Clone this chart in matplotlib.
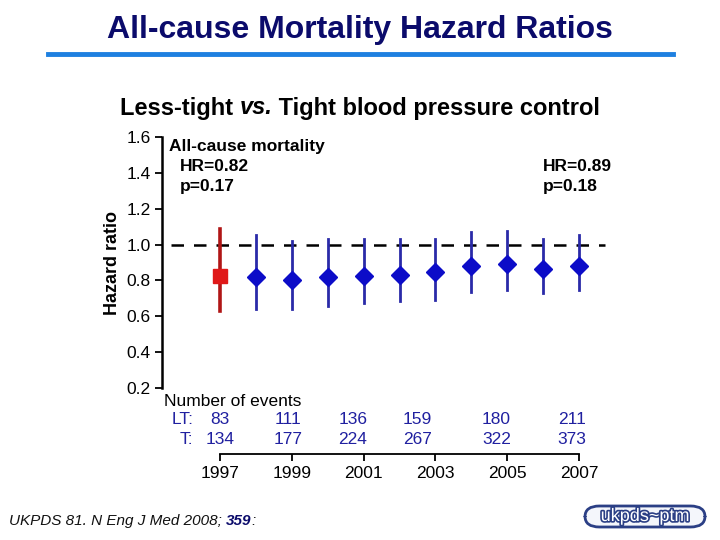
import matplotlib
matplotlib.use("Agg")
import matplotlib.pyplot as plt
import matplotlib.patheffects as pe
from matplotlib.patches import FancyBboxPatch

plt.rcParams['font.family'] = ['Liberation Sans', 'DejaVu Sans']

# ---- data ----
years = [1997, 1998, 1999, 2000, 2001, 2002, 2003, 2004, 2005, 2006, 2007]
hr    = [0.827, 0.818, 0.803, 0.820, 0.827, 0.833, 0.846, 0.879, 0.894, 0.864, 0.883]
ci_lo = [0.632, 0.638, 0.638, 0.656, 0.675, 0.684, 0.693, 0.734, 0.749, 0.730, 0.749]
ci_hi = [1.087, 1.056, 1.019, 1.033, 1.033, 1.033, 1.033, 1.069, 1.078, 1.033, 1.056]
event_years = [1997, 1999, 2001, 2003, 2005, 2007]
events_lt = [83, 111, 136, 159, 180, 211]
events_t = [134, 177, 224, 267, 322, 373]
year_ticks = [1997, 1999, 2001, 2003, 2005, 2007]
y_ticks = [0.2, 0.4, 0.6, 0.8, 1.0, 1.2, 1.4, 1.6]

# layout offsets for event labels (years)
ev_offsets = [0.0, -0.1, -0.3, -0.5, -0.3, -0.2]

fig = plt.figure(figsize=(7.2, 5.4), dpi=100)
fig.patch.set_facecolor('white')
renderer = fig.canvas.get_renderer()

def chain(parts, x_px, y_px, **kw):
    """Place text segments one after another starting at pixel x."""
    x = x_px
    for txt, extra in parts:
        t = fig.text(x / 720, 1 - y_px / 540, txt, ha='left', va='center', **kw, **extra)
        bb = t.get_window_extent(renderer=renderer)
        x = bb.x1
    return x

# title + rule
fig.text(0.5, 1 - 30/540, 'All-cause Mortality Hazard Ratios', ha='center', va='center',
         fontsize=23, fontweight='bold', color='#0b0b6b')
fig.add_artist(plt.Line2D([48/720, 673/720], [1 - 53.5/540]*2, color='#1e80e0', lw=3.5))

# subtitle (measure total width to center)
sub_parts = [('Less-tight ', {}), ('vs.', {'style': 'italic'}), (' Tight blood pressure control', {})]
tmp_w = 0
for txt, extra in sub_parts:
    t = fig.text(0, 0, txt, fontsize=17, fontweight='bold', **extra)
    tmp_w += t.get_window_extent(renderer=renderer).width
    t.remove()
chain(sub_parts, 360 - tmp_w / 2, 108, fontsize=17, fontweight='bold', color='black')

ax = fig.add_axes([162/720, 1 - 388/540, (651-162)/720, (388-137)/540])
x0 = 1997 - (220 - 162) / 35.9
x1 = x0 + (651 - 162) / 35.9
ax.set_xlim(x0, x1)
ax.set_ylim(0.2, 1.6)

for s in ['top', 'right']:
    ax.spines[s].set_visible(False)
ax.spines['left'].set_linewidth(1.8)
ax.spines['bottom'].set_position(('outward', 47.5))
ax.spines['bottom'].set_bounds(1997, 2007)
ax.spines['bottom'].set_linewidth(1.3)

ax.set_yticks(y_ticks)
ax.set_yticklabels([f'{v:.1f}' for v in y_ticks], fontsize=12.5)
ax.set_xticks(year_ticks)
ax.set_xticklabels([str(y) for y in year_ticks], fontsize=12.5)
ax.tick_params(axis='y', length=5, width=1.3, pad=3)
ax.tick_params(axis='x', length=5, width=1.3, pad=4)
ax.set_ylabel('Hazard ratio', fontsize=13, fontweight='bold', labelpad=4)

# reference line
ax.plot([x0 + 0.25, 2007.72], [1.0, 1.0], color='black', lw=1.8, dashes=(5, 4), zorder=1)

# red first point
ax.plot([years[0], years[0]], [ci_lo[0], ci_hi[0]], color='#b01515', lw=2.6, zorder=2)
ax.plot(years[0], hr[0], marker='s', ms=9.5, color='#e01818', mec='#e01818', zorder=3)

# blue points
for x, lo, hi in zip(years[1:], ci_lo[1:], ci_hi[1:]):
    ax.plot([x, x], [lo, hi], color='#2a2aa8', lw=2.0, zorder=2)
ax.plot(years[1:], hr[1:], ls='none', marker='D', ms=9, color='#0c0cc8', mec='#0c0cc8', zorder=3)

# annotations
ax.text(x0 + 0.2, 1.546, 'All-cause mortality', fontsize=12.5, fontweight='bold', va='center')
ax.text(x0 + 0.5, 1.437, 'HR=0.82', fontsize=12.5, fontweight='bold', va='center')
ax.text(x0 + 0.5, 1.325, 'p=0.17', fontsize=12.5, fontweight='bold', va='center')
ax.text(2006.0, 1.437, 'HR=0.89', fontsize=12.5, fontweight='bold', va='center')
ax.text(2006.0, 1.325, 'p=0.18', fontsize=12.5, fontweight='bold', va='center')

# number of events
yev = lambda py: 0.2 - (py - 388) / (251 / 1.4)
ax.text(x0 + 0.05, yev(402), 'Number of events', fontsize=12.5, va='center', clip_on=False)
ax.text(x0 + 0.88, yev(420), 'LT:', fontsize=12.5, va='center', ha='right', color='#2020a0', clip_on=False)
ax.text(x0 + 0.88, yev(439), 'T:', fontsize=12.5, va='center', ha='right', color='#2020a0', clip_on=False)
for yr, off, lt, t in zip(event_years, ev_offsets, events_lt, events_t):
    ax.text(yr + off, yev(420), str(lt), fontsize=12.5, va='center', ha='center', color='#2020a0', clip_on=False)
    ax.text(yr + off, yev(439), str(t), fontsize=12.5, va='center', ha='center', color='#2020a0', clip_on=False)

# footer
chain([('UKPDS 81. N Eng J Med 2008; ', {'color': '#111111'}),
       ('359', {'fontweight': 'bold', 'color': '#0b0b6b'}),
       (':', {'color': '#111111'})],
      9, 521, fontsize=11, style='italic')

# logo
box = FancyBboxPatch((585/720, 1 - 527/540), (705-585)/720, (527-506)/540,
                     boxstyle='round,pad=0,rounding_size=0.02', transform=fig.transFigure,
                     fc='#f4f6fb', ec='#2b3f85', lw=2.0)
fig.add_artist(box)
fig.text(645/720, 1 - 516.5/540, 'ukpds~ptm', fontsize=13, ha='center', va='center',
         color='white', path_effects=[pe.withStroke(linewidth=2.4, foreground='#2b3f85')])

fig.savefig('out.png', dpi=100)
